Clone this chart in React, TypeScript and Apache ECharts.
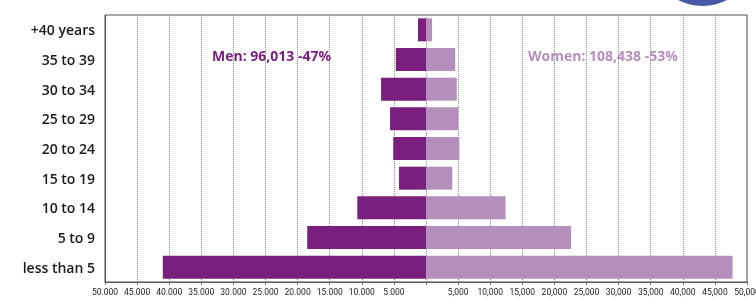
import React, { useEffect, useRef } from "react";
import * as echarts from "echarts";

const categories = ["+40 years", "35 to 39", "30 to 34", "25 to 29", "20 to 24", "15 to 19", "10 to 14", "5 to 9", "less than 5"];
const menValues = [1250, 4700, 7000, 5600, 5100, 4200, 10700, 18500, 41000];
const womenValues = [950, 4550, 4800, 5000, 5200, 4100, 12400, 22600, 47750];
const menLabel = "Men: 96,013 -47%";
const womenLabel = "Women: 108,438 -53%";

const MEN = "#7A1F7D";
const WOMEN = "#B58FBC";

function fmt(v: number): string {
  if (v === 0) return "";
  const a = Math.abs(v);
  const s = String(a).replace(/\B(?=(\d{3})+(?!\d))/g, v < 0 ? "." : ",");
  return s;
}

export default function App() {
  const ref = useRef<HTMLDivElement>(null);
  useEffect(() => {
    if (!ref.current) return;
    const chart = echarts.init(ref.current, null, { renderer: "svg" });
    chart.setOption({
      animation: false,
      grid: {
        left: 105,
        right: 9,
        top: 15,
        bottom: 17,
        show: true,
        borderColor: "#555",
        borderWidth: 1,
        containLabel: false,
        outerBoundsMode: "none",
      },
      xAxis: {
        type: "value",
        min: -50000,
        max: 50000,
        interval: 5000,
        axisLine: { show: true, onZero: false, lineStyle: { color: "#555" } },
        axisTick: { show: true, length: 3, lineStyle: { color: "#777" } },
        splitLine: { show: true, lineStyle: { type: "dotted", color: "#888", width: 1 } },
        axisLabel: {
          formatter: (v: number) => fmt(v),
          fontFamily: "Roboto",
          fontSize: 8.5,
          color: "#222",
          margin: 5,
          showMinLabel: true,
          showMaxLabel: true,
          hideOverlap: false,
        },
      },
      yAxis: {
        type: "category",
        data: categories,
        inverse: true,
        axisLine: { show: true, onZero: false, lineStyle: { color: "#555" } },
        axisTick: { show: false },
        axisLabel: {
          fontFamily: "Open Sans",
          fontWeight: 600,
          fontSize: 14,
          color: "#1a1a1a",
          margin: 10,
        },
      },
      series: [
        {
          type: "bar",
          name: "Men",
          stack: "pop",
          barWidth: 23,
          data: menValues.map((v) => -v),
          itemStyle: { color: MEN },
        },
        {
          type: "bar",
          name: "Women",
          stack: "pop",
          barWidth: 23,
          data: womenValues,
          itemStyle: { color: WOMEN },
        },
      ],
      graphic: [
        {
          type: "circle",
          shape: { cx: 702.5, cy: -47, r: 53 },
          style: { fill: "#4659A6" },
          z: 10,
        },
        {
          type: "text",
          x: 212,
          y: 55,
          style: {
            text: menLabel,
            fill: MEN,
            font: "bold 14px 'Open Sans'",
            verticalAlign: "middle",
          },
          z: 10,
        },
        {
          type: "text",
          x: 528,
          y: 55,
          style: {
            text: womenLabel,
            fill: WOMEN,
            font: "bold 14px 'Open Sans'",
            verticalAlign: "middle",
          },
          z: 10,
        },
      ],
    });
    return () => chart.dispose();
  }, []);
  return <div ref={ref} style={{ width: 756, height: 299, position: "fixed", left: 0, top: 0 }} />;
}
